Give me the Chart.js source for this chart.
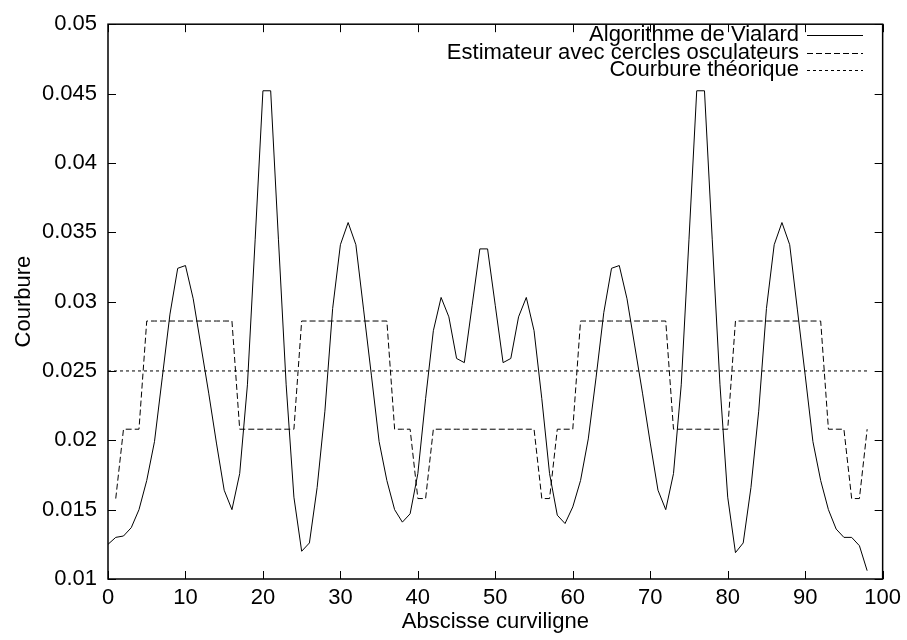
<!DOCTYPE html>
<html>
<head>
<meta charset="utf-8">
<script src="https://cdn.jsdelivr.net/npm/chart.js@4.4.1/dist/chart.umd.min.js"></script>
<style>
  html, body { margin: 0; padding: 0; background: #fff; }
  #wrap { width: 907px; height: 640px; }
</style>
</head>
<body>
<div id="wrap"><canvas id="courbure"></canvas></div>
<script>
// abscisse curviligne (points de la courbe)
const abscisses = [
  0, 1, 2, 3, 4, 5, 6, 7, 8, 9,
  10, 11, 12, 13, 14, 15, 16, 17, 18, 19,
  20, 21, 22, 23, 24, 25, 26, 27, 28, 29,
  30, 31, 32, 33, 34, 35, 36, 37, 38, 39,
  40, 41, 42, 43, 44, 45, 46, 47, 48, 49,
  50, 51, 52, 53, 54, 55, 56, 57, 58, 59,
  60, 61, 62, 63, 64, 65, 66, 67, 68, 69,
  70, 71, 72, 73, 74, 75, 76, 77, 78, 79,
  80, 81, 82, 83, 84, 85, 86, 87, 88, 89,
  90, 91, 92, 93, 94, 95, 96, 97, 98
];

// Algorithme de Vialard
const vialard = [
  0.0125, 0.0130, 0.0131, 0.0137, 0.0150, 0.0171, 0.0199, 0.0245, 0.0291, 0.0324,
  0.0326, 0.0302, 0.0268, 0.0234, 0.0198, 0.0164, 0.0150, 0.0176, 0.0240, 0.0345,
  0.0452, 0.0452, 0.0345, 0.0240, 0.0159, 0.0120, 0.0126, 0.0166, 0.0221, 0.0295,
  0.0341, 0.0357, 0.0341, 0.0294, 0.0247, 0.0199, 0.0171, 0.0150, 0.0141, 0.0147,
  0.0176, 0.0230, 0.0279, 0.0303, 0.0289, 0.0259, 0.0256, 0.0297, 0.0338, 0.0338,
  0.0297, 0.0256, 0.0259, 0.0289, 0.0303, 0.0279, 0.0230, 0.0176, 0.0146, 0.0140,
  0.0152, 0.0171, 0.0201, 0.0245, 0.0292, 0.0324, 0.0326, 0.0302, 0.0268, 0.0234,
  0.0198, 0.0164, 0.0150, 0.0176, 0.0240, 0.0345, 0.0452, 0.0452, 0.0345, 0.0240,
  0.0159, 0.0119, 0.0126, 0.0166, 0.0221, 0.0295, 0.0341, 0.0357, 0.0341, 0.0294,
  0.0247, 0.0199, 0.0171, 0.0150, 0.0136, 0.0130, 0.0130, 0.0124, 0.0106
];

// Estimateur avec cercles osculateurs (pas de valeur en 0)
const osculateurs = [
  null, 0.0158, 0.0208, 0.0208, 0.0208, 0.0286, 0.0286, 0.0286, 0.0286, 0.0286,
  0.0286, 0.0286, 0.0286, 0.0286, 0.0286, 0.0286, 0.0286, 0.0208, 0.0208, 0.0208,
  0.0208, 0.0208, 0.0208, 0.0208, 0.0208, 0.0286, 0.0286, 0.0286, 0.0286, 0.0286,
  0.0286, 0.0286, 0.0286, 0.0286, 0.0286, 0.0286, 0.0286, 0.0208, 0.0208, 0.0208,
  0.0158, 0.0158, 0.0208, 0.0208, 0.0208, 0.0208, 0.0208, 0.0208, 0.0208, 0.0208,
  0.0208, 0.0208, 0.0208, 0.0208, 0.0208, 0.0208, 0.0158, 0.0158, 0.0208, 0.0208,
  0.0208, 0.0286, 0.0286, 0.0286, 0.0286, 0.0286, 0.0286, 0.0286, 0.0286, 0.0286,
  0.0286, 0.0286, 0.0286, 0.0208, 0.0208, 0.0208, 0.0208, 0.0208, 0.0208, 0.0208,
  0.0208, 0.0286, 0.0286, 0.0286, 0.0286, 0.0286, 0.0286, 0.0286, 0.0286, 0.0286,
  0.0286, 0.0286, 0.0286, 0.0208, 0.0208, 0.0208, 0.0158, 0.0158, 0.0208
];

// Courbure théorique (constante)
const theoriqueX = [0, 98];
const theorique = [0.025, 0.025];

const xTicks = [0, 10, 20, 30, 40, 50, 60, 70, 80, 90, 100];
const yTicks = [0.01, 0.015, 0.02, 0.025, 0.03, 0.035, 0.04, 0.045, 0.05];
const yLabels = ['0.01', '0.015', '0.02', '0.025', '0.03', '0.035', '0.04', '0.045', '0.05'];

const police = { family: '"Liberation Sans", Arial, sans-serif', size: 22 };

const toPoints = (xs, ys) => xs.map((x, i) => ({ x: x, y: ys[i] })).filter(p => p.y !== null);

// cadre, graduations vers l'intérieur et légende façon gnuplot
const cadre = {
  id: 'cadre',
  afterDatasetsDraw(chart) {
    const { ctx, chartArea: a, scales: { x, y } } = chart;
    ctx.save();
    ctx.strokeStyle = '#000';
    ctx.lineWidth = 1;
    ctx.beginPath();
    x.ticks.forEach(t => {
      const px = Math.round(x.getPixelForValue(t.value)) + 0.5;
      ctx.moveTo(px, a.bottom); ctx.lineTo(px, a.bottom - 8);
      ctx.moveTo(px, a.top); ctx.lineTo(px, a.top + 8);
    });
    y.ticks.forEach(t => {
      const py = Math.round(y.getPixelForValue(t.value)) + 0.5;
      ctx.moveTo(a.left, py); ctx.lineTo(a.left + 8, py);
      ctx.moveTo(a.right, py); ctx.lineTo(a.right - 8, py);
    });
    ctx.stroke();
    ctx.lineWidth = 1.5;
    ctx.strokeRect(a.left, a.top, a.right - a.left, a.bottom - a.top);

    // légende
    ctx.font = police.size + 'px ' + police.family;
    ctx.fillStyle = '#000';
    ctx.textAlign = 'right';
    ctx.textBaseline = 'middle';
    chart.data.datasets.forEach((ds, i) => {
      const ly = 35 + i * 17.5;
      ctx.fillText(ds.label, 799, ly);
      ctx.lineWidth = 1;
      ctx.setLineDash(ds.borderDash || []);
      ctx.beginPath();
      ctx.moveTo(807, Math.round(ly) + 0.5);
      ctx.lineTo(863, Math.round(ly) + 0.5);
      ctx.stroke();
    });
    ctx.restore();
  }
};

new Chart(document.getElementById('courbure'), {
  type: 'line',
  data: {
    datasets: [
      {
        label: 'Algorithme de Vialard',
        data: toPoints(abscisses, vialard),
        borderColor: '#000',
        borderWidth: 1,
        borderDash: []
      },
      {
        label: 'Estimateur avec cercles osculateurs',
        data: toPoints(abscisses, osculateurs),
        borderColor: '#000',
        borderWidth: 1,
        borderDash: [6, 3]
      },
      {
        label: 'Courbure théorique',
        data: toPoints(theoriqueX, theorique),
        borderColor: '#000',
        borderWidth: 1,
        borderDash: [3, 3]
      }
    ]
  },
  options: {
    responsive: true,
    maintainAspectRatio: false,
    animation: false,
    elements: { point: { radius: 0 }, line: { tension: 0, fill: false } },
    layout: { padding: { top: 19, right: 23, left: 0, bottom: 0 } },
    plugins: { legend: { display: false }, tooltip: { enabled: false } },
    scales: {
      x: {
        type: 'linear',
        min: 0,
        max: 100,
        afterBuildTicks: s => { s.ticks = xTicks.map(v => ({ value: v })); },
        afterFit: s => { s.height = 61; },
        grid: { display: false, drawTicks: false },
        border: { display: false },
        ticks: { color: '#000', font: police, padding: 6, maxRotation: 0, autoSkip: false },
        title: {
          display: true,
          text: 'Abscisse curviligne',
          color: '#000',
          font: police,
          padding: { top: 0, bottom: 5 }
        }
      },
      y: {
        min: 0.01,
        max: 0.05,
        afterBuildTicks: s => { s.ticks = yTicks.map(v => ({ value: v })); },
        afterFit: s => { s.width = 108; },
        grid: { display: false, drawTicks: false },
        border: { display: false },
        ticks: {
          color: '#000',
          font: police,
          padding: 11,
          autoSkip: false,
          callback: (v, i) => yLabels[i]
        },
        title: {
          display: true,
          text: 'Courbure',
          color: '#000',
          font: police,
          padding: { top: 11, bottom: 0 }
        }
      }
    }
  },
  plugins: [cadre]
});
</script>
</body>
</html>
